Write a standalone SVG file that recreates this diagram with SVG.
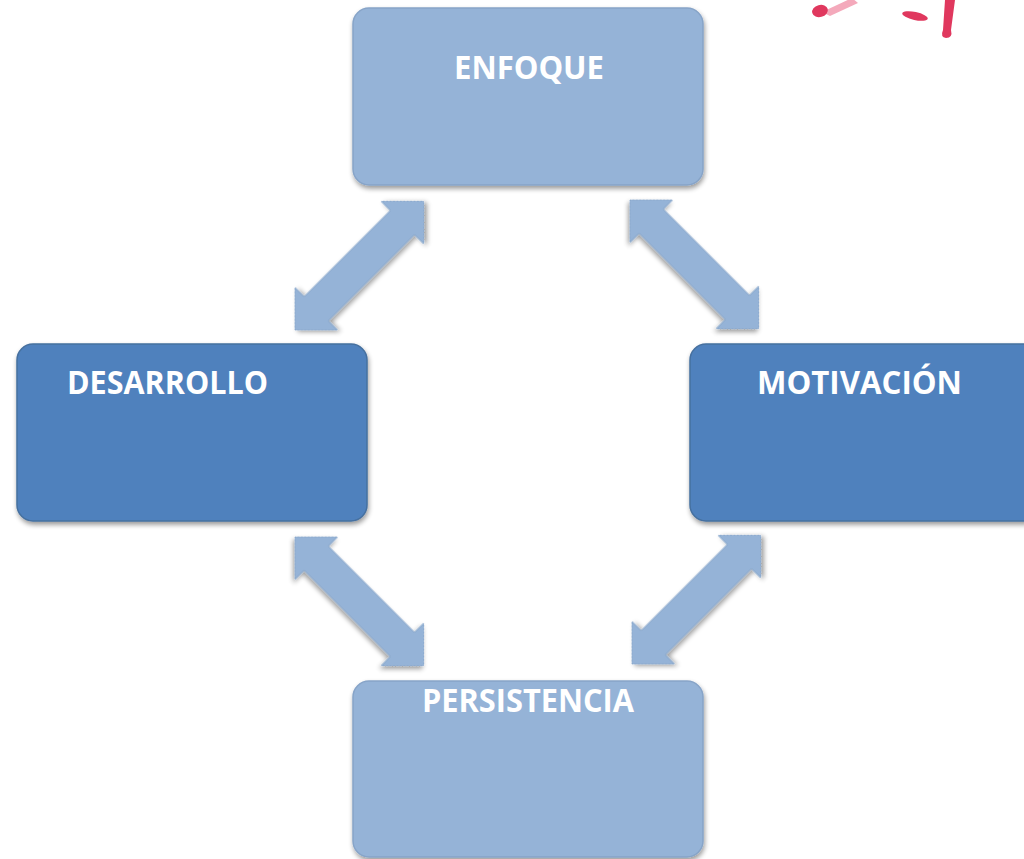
<svg xmlns="http://www.w3.org/2000/svg" width="1024" height="859" viewBox="0 0 1024 859">
  <style>
    .box { stroke-width: 1.5; filter: url(#shadow); }
    .light { fill: #95b3d7; stroke: #87a4c8; }
    .dark { fill: #4f81bd; stroke: #46709f; }
    .label { font-family: "Open Sans", "Liberation Sans", sans-serif; font-weight: bold; font-size: 33px; fill: #ffffff; }
    .arrow { fill: #95b3d7; stroke: #8aa8cc; stroke-width: 1; filter: url(#shadow); }
    .splash { fill: #e0385e; }
  </style>
  <defs>
    <filter id="shadow" x="-10%" y="-10%" width="125%" height="130%">
      <feGaussianBlur in="SourceAlpha" stdDeviation="2.5"/>
      <feOffset dx="1" dy="3" result="off"/>
      <feComponentTransfer><feFuncA type="linear" slope="0.4"/></feComponentTransfer>
      <feMerge><feMergeNode/><feMergeNode in="SourceGraphic"/></feMerge>
    </filter>
    <!-- double-headed block arrow, laid out along +x from 0 to 182 -->
    <path id="dblArrow" d="M0,0 L30,-30 L30,-17 L152,-17 L152,-30 L182,0 L152,30 L152,17 L30,17 L30,30 Z"/>
  </defs>

  <rect width="1024" height="859" fill="#ffffff"/>

  <!-- paint splashes, top right -->
  <g id="splashes">
    <path d="M822,12 L852,-2 L858,3 L830,16 Z" fill="#f4a9bb"/>
    <ellipse class="splash" cx="820" cy="11" rx="8" ry="6" transform="rotate(-15 820 11)"/>
    <ellipse class="splash" cx="915" cy="16" rx="13" ry="4" transform="rotate(12 915 16)"/>
    <path class="splash" d="M945,0 L955,0 L951,30 Q953,38 946,38 Q940,37 943,30 Z"/>
  </g>

  <!-- connectors -->
  <g id="connectors">
    <use href="#dblArrow" class="arrow" transform="translate(295,330) rotate(-45)"/>
    <use href="#dblArrow" class="arrow" transform="translate(630,200) rotate(45)"/>
    <use href="#dblArrow" class="arrow" transform="translate(295,537) rotate(45)"/>
    <use href="#dblArrow" class="arrow" transform="translate(632,664) rotate(-45)"/>
  </g>

  <g id="enfoque">
    <rect class="box light" x="353" y="8" width="350" height="177" rx="16"/>
    <text class="label" x="529" y="79" text-anchor="middle" textLength="150" lengthAdjust="spacingAndGlyphs">ENFOQUE</text>
  </g>

  <g id="desarrollo">
    <rect class="box dark" x="17" y="344" width="350" height="177" rx="16"/>
    <text class="label" x="67" y="394" textLength="201" lengthAdjust="spacingAndGlyphs">DESARROLLO</text>
  </g>

  <g id="motivacion">
    <rect class="box dark" x="690" y="344" width="350" height="177" rx="16"/>
    <text class="label" x="757" y="394" textLength="205" lengthAdjust="spacingAndGlyphs">MOTIVACIÓN</text>
  </g>

  <g id="persistencia">
    <rect class="box light" x="353" y="681" width="350" height="176" rx="16"/>
    <text class="label" x="422" y="712" textLength="212" lengthAdjust="spacingAndGlyphs">PERSISTENCIA</text>
  </g>
</svg>
